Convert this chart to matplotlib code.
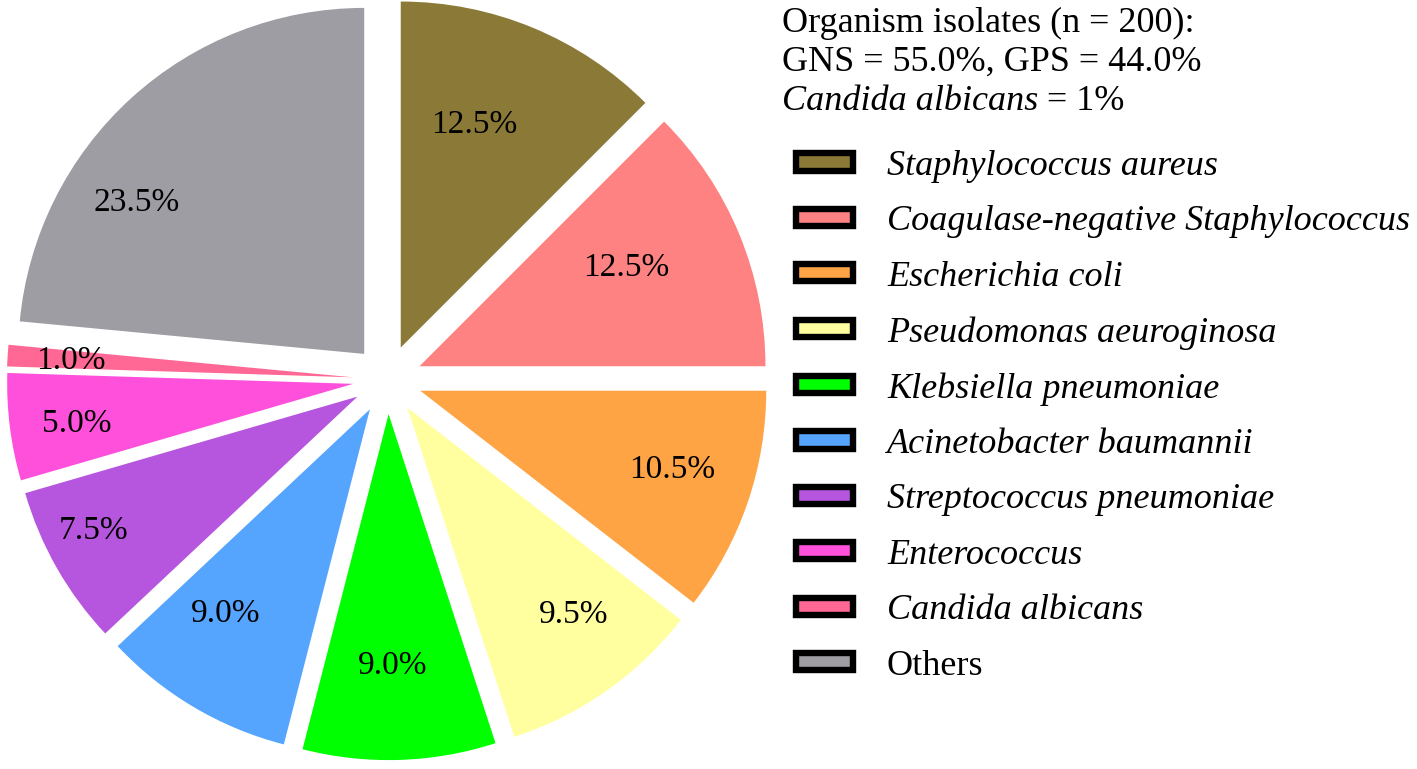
import matplotlib.pyplot as plt
import matplotlib.patches as mpatches

# --- Data ---
organisms = [
    'Staphylococcus aureus',
    'Coagulase-negative Staphylococcus',
    'Escherichia coli',
    'Pseudomonas aeuroginosa',
    'Klebsiella pneumoniae',
    'Acinetobacter baumannii',
    'Streptococcus pneumoniae',
    'Enterococcus',
    'Candida albicans',
    'Others',
]
percentages = [12.5, 12.5, 10.5, 9.5, 9.0, 9.0, 7.5, 5.0, 1.0, 23.5]
colors = ['#8B7A37', '#FF8282', '#FFA445', '#FFFFA0', '#00FF00',
          '#55A5FF', '#B655DD', '#FF50DC', '#FF6894', '#9E9DA4']
header_lines = ['Organism isolates (n = 200):', 'GNS = 55.0%, GPS = 44.0%']
candida_note = ('Candida albicans', ' = 1%')

# label nudges in pixels (right, down) relative to the default pct position
label_nudge = [(-27, 20), (-36, 2), (3, -6), (15, -8), (-4, -11),
               (-10, -22), (-35, 4), (-16, 7), (-20, 0), (-51, 43)]

plt.rcParams['font.family'] = ['Liberation Serif', 'DejaVu Serif']

W, H = 1417, 769
fig = plt.figure(figsize=(W / 100, H / 100), dpi=100)

# pie axes: centre and radius in pixels
cx, cy, R = 387.5, H - 379.5, 346.0
half = 1.15
ax = fig.add_axes([(cx - half * R) / W, (cy - half * R) / H, 2 * half * R / W, 2 * half * R / H])
wedges, texts, autotexts = ax.pie(
    percentages, colors=colors, startangle=90, counterclock=False,
    explode=[0.1] * len(percentages), radius=1.0,
    autopct='%.1f%%', pctdistance=0.76,
    wedgeprops=dict(linewidth=0),
    textprops=dict(fontsize=24, color='black'),
)
for t, (dx, dy) in zip(autotexts, label_nudge):
    x, y = t.get_position()
    t.set_position((x + dx / R, y - dy / R))
ax.set_xlim(-half, half)
ax.set_ylim(-half, half)
ax.set_aspect('equal')
ax.axis('off')

# header text
fs_head = 26
x0 = 782 / W
fig.text(x0, (H - 32) / H, header_lines[0], fontsize=fs_head, va='baseline')
fig.text(x0, (H - 71) / H, header_lines[1], fontsize=fs_head, va='baseline')
t1 = fig.text(x0, (H - 110) / H, candida_note[0], fontsize=fs_head, style='italic', va='baseline')
fig.add_artist(plt.Annotation(candida_note[1], xy=(1, 0), xycoords=t1, fontsize=fs_head, va='bottom', ha='left'))

# legend with black-bordered swatches
handles = [mpatches.Patch(facecolor=c, edgecolor='black', linewidth=4.6) for c in colors]
leg = fig.legend(handles, organisms, loc='upper left', bbox_to_anchor=(796 / W, (H - 150) / H),
                 frameon=False, borderpad=0, borderaxespad=0,
                 prop=dict(family='Liberation Serif', style='italic', size=26),
                 handlelength=1.57, handleheight=0.36, handletextpad=0.95, labelspacing=0.62)
leg.get_texts()[-1].set_style('normal')

fig.savefig('out.png', dpi=100)
